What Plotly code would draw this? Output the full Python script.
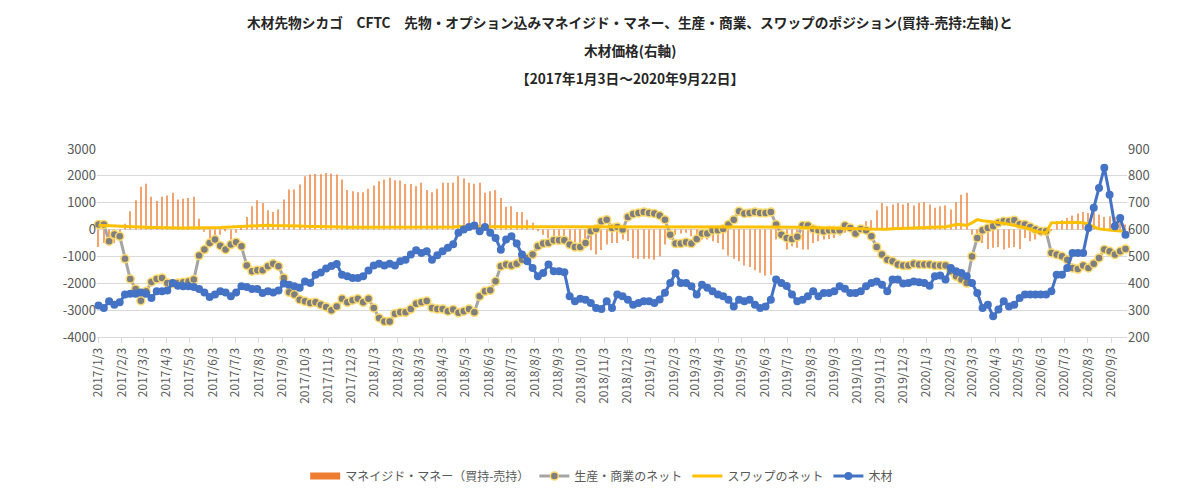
import pandas as pd
import plotly.graph_objects as go

# 週次データ 2017/1/3 ～ 2020/9/22 (毎週火曜)
dates = pd.date_range("2017-01-03", "2020-09-22", freq="7D")

# マネイジド・マネー（買持-売持）
managed_money = [
    -650, -500, -370, -500, -100, 220, 680, 1090, 1590, 1710,
    1220, 1060, 1220, 1270, 1370, 1120, 1150, 1180, 1220, 400,
    -80, -350, -250, -190, -60, -370, -120, 30, 470, 870,
    1090, 990, 720, 650, 750, 1120, 1490, 1490, 1680, 1990,
    2050, 2070, 2060, 2110, 2080, 2050, 1860, 1470, 1430, 1390,
    1390, 1520, 1640, 1800, 1860, 1930, 1840, 1830, 1700, 1700,
    1610, 1740, 1470, 1390, 1520, 1740, 1740, 1740, 1990, 1900,
    1740, 1710, 1740, 1370, 1430, 1470, 1180, 850, 870, 650,
    650, 370, 250, -60, -190, -310, -310, -250, -310, -435,
    -470, -600, -680, -770, -930, -760, -560, -500, -500, -370,
    -430, -1055, -1090, -1090, -1090, -1120, -990, -560, -370, -190,
    -150, -120, -250, -370, -370, -370, -435, -500, -745, -970,
    -1090, -1180, -1340, -1390, -1515, -1610, -1710, -1680, -370, -250,
    -745, -620, -680, -745, -745, -500, -435, -370, -350, -310,
    -220, -120, 0, 0, 100, 310, 350, 720, 990, 870,
    930, 990, 930, 990, 900, 990, 1020, 930, 810, 870,
    900, 750, 1020, 1300, 1370, -190, -310, -500, -720, -680,
    -650, -745, -680, -650, -720, -310, -435, -370, -250, -190,
    -25, 310, 350, 435, 520, 600, 650, 620, 650, 560,
    470, 500, 470, 370, 190,
]

# 生産・商業のネット
producer_net = [
    186, 186, -435, -186, -250, -1090, -1840, -2210, -2650, -2300,
    -1950, -1840, -1800, -1990, -2020, -1990, -1960, -1930, -1860, -970,
    -745, -500, -370, -600, -745, -560, -470, -620, -1340, -1550,
    -1515, -1515, -1370, -1270, -1370, -1800, -2335, -2420, -2610, -2670,
    -2730, -2710, -2800, -2880, -3000, -2860, -2580, -2710, -2630, -2580,
    -2710, -2580, -2920, -3290, -3420, -3420, -3130, -3080, -3080, -2960,
    -2760, -2710, -2660, -2920, -2960, -2960, -3040, -2980, -3100, -3040,
    -2960, -3080, -2480, -2300, -2260, -1925, -1370, -1300, -1340, -1270,
    -1120, -1055, -930, -620, -520, -500, -400, -400, -400, -560,
    -650, -650, -500, -60, 25, 310, 370, 60, 100, 0,
    470, 580, 620, 650, 620, 600, 520, 370, -190, -520,
    -520, -470, -520, -350, -150, -150, -25, -25, 25, 190,
    370, 680, 600, 620, 650, 620, 620, 650, 190, -190,
    -310, -350, -270, 150, 150, 25, -25, -60, -25, -25,
    -25, 150, 60, -150, 25, -25, -250, -650, -930, -1120,
    -1180, -1300, -1340, -1340, -1270, -1300, -1300, -1300, -1340, -1340,
    -1340, -1550, -1740, -1860, -1990, -1000, -310, -25, 60, 125,
    250, 310, 310, 350, 200, 190, 100, 0, -60, -60,
    -870, -930, -990, -1120, -1430, -1470, -1340, -1430, -1270, -1055,
    -745, -810, -930, -810, -720,
]

# スワップのネット
swap_net = [
    160, 150, 140, 130, 120, 110, 100, 100, 90, 90,
    80, 80, 70, 70, 70, 60, 60, 60, 60, 70,
    70, 70, 80, 80, 90, 100, 110, 120, 140, 150,
    160, 160, 160, 150, 150, 140, 140, 130, 130, 120,
    120, 110, 110, 110, 100, 100, 100, 90, 90, 90,
    80, 80, 80, 90, 90, 100, 100, 100, 90, 90,
    90, 80, 80, 80, 90, 90, 100, 100, 110, 110,
    110, 100, 100, 100, 90, 90, 90, 100, 100, 110,
    110, 110, 100, 100, 100, 100, 90, 90, 90, 100,
    100, 100, 110, 110, 110, 110, 100, 100, 100, 100,
    100, 100, 110, 110, 110, 100, 100, 100, 90, 90,
    90, 90, 90, 100, 100, 100, 100, 110, 110, 110,
    110, 100, 100, 100, 100, 100, 110, 110, 100, 100,
    100, 90, 90, 80, 80, 70, 70, 60, 60, 50,
    50, 40, 40, 30, 30, 20, 20, 10, 0, 10,
    30, 40, 50, 60, 70, 80, 90, 100, 110, 100,
    100, 150, 190, 190, 150, 250, 370, 330, 310, 290,
    270, 240, 200, 150, 100, 60, 20, -60, -100, -125,
    250, 260, 270, 270, 270, 260, 250, 190, 100, 25,
    0, -25, -40, -50, -60,
]

# 木材価格（右軸）
lumber = [
    317, 308, 333, 320, 329, 358, 361, 361, 366, 361,
    345, 370, 370, 373, 401, 391, 389, 389, 386, 379,
    366, 349, 358, 370, 366, 352, 366, 389, 386, 379,
    379, 364, 370, 366, 373, 399, 395, 389, 383, 407,
    401, 432, 440, 455, 464, 472, 432, 426, 420, 420,
    426, 448, 466, 473, 466, 473, 466, 482, 488, 507,
    523, 513, 519, 488, 504, 519, 532, 545, 588, 600,
    610, 615, 594, 610, 588, 569, 525, 563, 575, 548,
    507, 482, 457, 426, 438, 470, 445, 445, 441, 352,
    333, 342, 339, 327, 308, 304, 333, 308, 358, 352,
    339, 320, 327, 333, 333, 327, 340, 365, 401, 438,
    401, 401, 389, 358, 395, 383, 370, 358, 352, 339,
    314, 339, 333, 339, 320, 308, 314, 339, 414, 401,
    390, 358, 333, 339, 352, 370, 352, 364, 364, 370,
    389, 380, 364, 364, 370, 389, 401, 407, 395, 370,
    414, 414, 399, 401, 407, 404, 401, 391, 426, 429,
    414, 457, 445, 438, 426, 401, 364, 308, 320, 277,
    302, 333, 314, 320, 345, 358, 358, 358, 358, 358,
    370, 432, 432, 457, 513, 513, 513, 606, 681, 755,
    830, 730, 612, 643, 581,
]

left_ticks = [-4000, -3000, -2000, -1000, 0, 1000, 2000, 3000]
right_ticks = [200, 300, 400, 500, 600, 700, 800, 900]

tick_dates = pd.date_range("2017-01-01", "2020-09-01", freq="MS") + pd.Timedelta(days=2)
tick_text = [f"{d.year}/{d.month}/{d.day}" for d in tick_dates]

FONT = "Noto Sans CJK JP"
GRID = "#D9D9D9"
TXT = "#595959"
MM_NAME = "マネイジド・マネー（買持-売持）"

fig = go.Figure()

fig.add_trace(go.Bar(
    x=dates, y=managed_money, name=MM_NAME, showlegend=False,
    width=1.5 * 86400000, marker=dict(color="#ED7D31", line=dict(width=0)),
    opacity=0.7,
))
# 凡例用（横長の矩形で表示するため）
fig.add_trace(go.Scatter(
    x=[None], y=[None], name=MM_NAME, mode="lines",
    line=dict(color="#ED7D31", width=7),
))
fig.add_trace(go.Scatter(
    x=dates, y=producer_net, name="生産・商業のネット", mode="lines+markers",
    line=dict(color="#A5A5A5", width=3),
    marker=dict(size=8, color="#7F7F7F", line=dict(color="#FFD966", width=1.5)),
    cliponaxis=False,
))
fig.add_trace(go.Scatter(
    x=dates, y=swap_net, name="スワップのネット", mode="lines",
    line=dict(color="#FFC000", width=3), cliponaxis=False,
))
fig.add_trace(go.Scatter(
    x=dates, y=lumber, name="木材", mode="lines+markers", yaxis="y2",
    line=dict(color="#4472C4", width=3),
    marker=dict(size=8, color="#4472C4"),
    cliponaxis=False,
))

titles = [
    "木材先物シカゴ　CFTC　先物・オプション込みマネイジド・マネー、生産・商業、スワップのポジション(買持-売持:左軸)と",
    "木材価格(右軸)",
    "【2017年1月3日～2020年9月22日】",
]
title_y = [1.676, 1.527, 1.378]
annotations = [
    dict(text=t, x=0.517, y=y, xref="paper", yref="paper", xanchor="center",
         yanchor="middle", showarrow=False,
         font=dict(family=FONT, size=13.7, color="#262626", weight="bold"))
    for t, y in zip(titles, title_y)
]

# ページ本体の余白 (8px) を見込んだサイズ
fig.update_layout(
    width=1184, height=481,
    margin=dict(l=89, r=65, t=141, b=152, autoexpand=False),
    plot_bgcolor="white", paper_bgcolor="white",
    font=dict(family=FONT, color=TXT, size=12),
    annotations=annotations,
    showlegend=True,
    legend=dict(orientation="h", x=0.49, y=-0.74, xanchor="center", yanchor="middle",
                font=dict(size=12, color=TXT), traceorder="normal"),
    xaxis=dict(
        type="date", range=["2017-01-01", "2020-09-24"], automargin=False,
        tickvals=list(tick_dates), ticktext=tick_text, tickangle=-90,
        tickfont=dict(size=12, color=TXT),
        showgrid=False, showline=True, linecolor=GRID, linewidth=1,
        ticks="outside", ticklen=5, tickcolor=GRID,
    ),
    yaxis=dict(
        range=[-4000, 3000], tickvals=left_ticks, ticktext=[str(v) for v in left_ticks],
        gridcolor=GRID, gridwidth=1, zeroline=False, showline=False, automargin=False,
        tickfont=dict(size=13, color=TXT),
    ),
    yaxis2=dict(
        range=[200, 900], tickvals=right_ticks, ticktext=[str(v) for v in right_ticks],
        overlaying="y", side="right", showgrid=False, zeroline=False, automargin=False,
        tickfont=dict(size=13, color=TXT),
    ),
)

fig.write_html("out.html")
